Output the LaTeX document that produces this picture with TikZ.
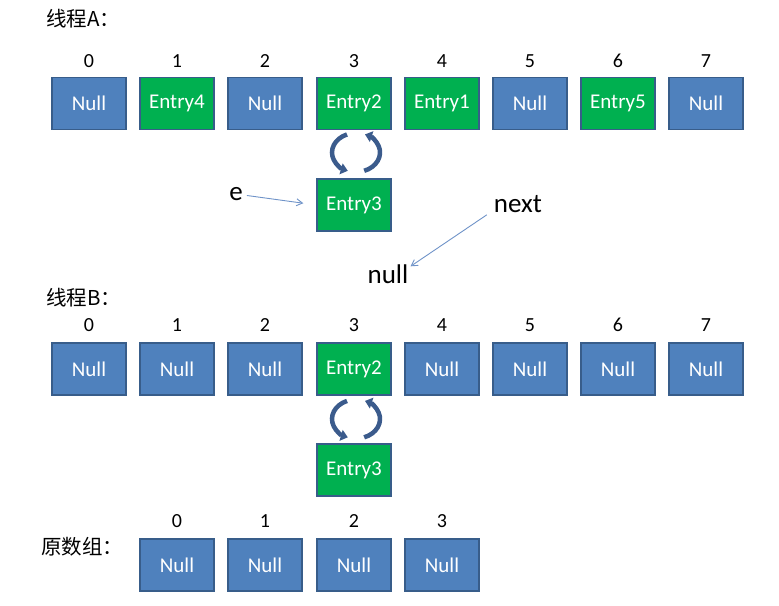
\documentclass[tikz,border=0pt]{standalone}
\usepackage{fontspec}
\setmainfont{Carlito}
\newfontfamily\cjk{Noto Sans CJK SC}
\usetikzlibrary{arrows.meta}
\definecolor{boxblue}{HTML}{4F81BD}
\definecolor{boxline}{HTML}{385D8A}
\definecolor{boxgreen}{HTML}{00B050}
\definecolor{cyc}{RGB}{59,91,140}
\definecolor{thin}{HTML}{6F93C8}
\tikzset{
  cell/.style={draw=boxline, line width=1.6pt, minimum width=74pt, minimum height=52pt, inner sep=0pt, text=white, font=\fontsize{21}{24}\selectfont},
  nullcell/.style={cell, fill=boxblue},
  entrycell/.style={cell, fill=boxgreen},
  idx/.style={font=\fontsize{20}{23}\selectfont, inner sep=1pt},
  title/.style={font=\cjk\fontsize{20.5}{23}\selectfont, anchor=west, inner sep=0pt},
  big/.style={font=\fontsize{27}{30}\selectfont, inner sep=1pt},
  cycarrow/.style={draw=cyc, line width=4.5pt, -{Triangle[length=7pt,width=11pt]}},
  pointer/.style={draw=thin, line width=0.9pt, -{Straight Barb[length=6pt,width=7pt]}}
}
\begin{document}
\begin{tikzpicture}[x=1pt,y=1pt]
\useasboundingbox (0,0) rectangle (779,605);
% Thread A
\node[title] (ta) at (46,586) {线程A：};
\foreach \i/\x in {0/89,1/177,2/265,3/354,4/442,5/530,6/618,7/706}{
  \node[idx] (ia\i) at (\x,544) {\i};
}
\node[nullcell]  (a0) at (89,501.5) {Null};
\node[entrycell] (a1) at (177,501.5) {Entry4};
\node[nullcell]  (a2) at (265,501.5) {Null};
\node[entrycell] (a3) at (354,501.5) {Entry2};
\node[entrycell] (a4) at (442,501.5) {Entry1};
\node[nullcell]  (a5) at (530,501.5) {Null};
\node[entrycell] (a6) at (618,501.5) {Entry5};
\node[nullcell]  (a7) at (706,501.5) {Null};
\node[entrycell] (ae3) at (354,400) {Entry3};
\coordinate (ca) at (356,452.5);
\draw[cycarrow] ([shift={(112:24 and 19.5)}]ca) arc[start angle=112, end angle=250, x radius=24, y radius=19.5];
\draw[cycarrow] ([shift={(290:24 and 19.5)}]ca) arc[start angle=290, end angle=428, x radius=24, y radius=19.5];
\node[big] (e) at (236,411) {e};
\draw[pointer, shorten <=3pt, shorten >=13pt] (e) -- (ae3.west);
\node[big] (next) at (518,401) {next};
\node[big] (null) at (388,331) {null};
\draw[pointer] ([xshift=-6pt,yshift=-1pt]next.south west) -- ([xshift=1pt,yshift=-3pt]null.north east);
% Thread B
\node[title] (tb) at (46,307) {线程B：};
\foreach \i/\x in {0/89,1/177,2/265,3/354,4/442,5/530,6/618,7/706}{
  \node[idx] (ib\i) at (\x,280) {\i};
}
\node[nullcell]  (b0) at (89,236) {Null};
\node[nullcell]  (b1) at (177,236) {Null};
\node[nullcell]  (b2) at (265,236) {Null};
\node[entrycell] (b3) at (354,236) {Entry2};
\node[nullcell]  (b4) at (442,236) {Null};
\node[nullcell]  (b5) at (530,236) {Null};
\node[nullcell]  (b6) at (618,236) {Null};
\node[nullcell]  (b7) at (706,236) {Null};
\node[entrycell] (be3) at (354,135) {Entry3};
\coordinate (cb) at (356,186);
\draw[cycarrow] ([shift={(112:24 and 19.5)}]cb) arc[start angle=112, end angle=250, x radius=24, y radius=19.5];
\draw[cycarrow] ([shift={(290:24 and 19.5)}]cb) arc[start angle=290, end angle=428, x radius=24, y radius=19.5];
% Original array
\node[title] (to) at (41,58) {原数组：};
\foreach \i/\x in {0/177,1/265,2/354,3/442}{
  \node[idx] (io\i) at (\x,84) {\i};
  \node[nullcell] (o\i) at (\x,40) {Null};
}
\end{tikzpicture}
\end{document}
